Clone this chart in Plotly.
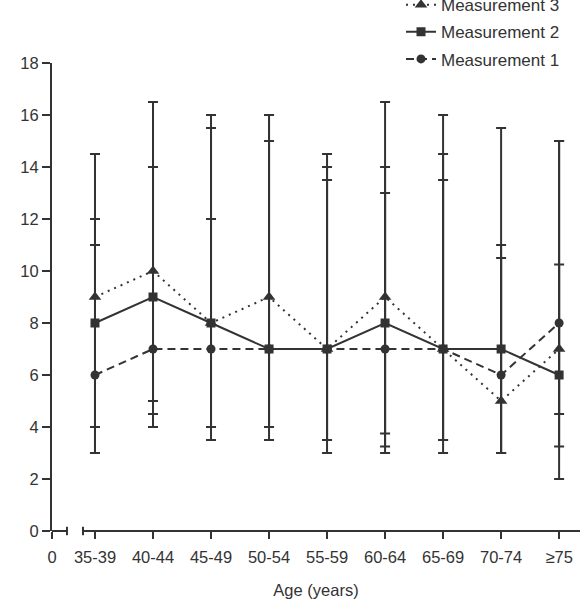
import plotly.graph_objects as go

categories = ["35-39", "40-44", "45-49", "50-54", "55-59", "60-64", "65-69", "70-74", "≥75"]

m1 = [6, 7, 7, 7, 7, 7, 7, 6, 8]
m1_low = [3, 4.5, 4, 4, 3.5, 3.25, 3.5, 3, 3.25]
m1_high = [11, 14, 12, 15, 13.5, 13, 13.5, 10.5, 10.25]

m2 = [8, 9, 8, 7, 7, 8, 7, 7, 6]
m2_low = [4, 4, 3.5, 3.5, 3, 3, 3, 3, 2]
m2_high = [12, 16.5, 16, 16, 14.5, 16.5, 16, 15.5, 15]

m3 = [9, 10, 8, 9, 7, 9, 7, 5, 7]
m3_low = [3, 5, 4, 4, 3.5, 3.75, 3.5, 3, 4.5]
m3_high = [14.5, 16.5, 15.5, 16, 14, 14, 14.5, 11, 15]

x_pos = list(range(1, len(categories) + 1))
x_zero = 0.259
x_max = 9.36
ink = "#333333"

series = [
    ("Measurement 3", m3, m3_low, m3_high, "2px,5px", "triangle-up", 11),
    ("Measurement 2", m2, m2_low, m2_high, "solid", "square", 9),
    ("Measurement 1", m1, m1_low, m1_high, "8px,5px", "circle", 9),
]

fig = go.Figure()
for name, mean, lo, hi, dash, sym, msize in series:
    fig.add_trace(go.Scatter(
        x=x_pos, y=mean, name=name, legendgroup=name, mode="lines+markers",
        line=dict(color=ink, width=2, dash=dash),
        marker=dict(symbol=sym, size=msize, color=ink),
        error_y=dict(type="data", symmetric=False,
                     array=[h - m for h, m in zip(hi, mean)],
                     arrayminus=[m - l for m, l in zip(mean, lo)],
                     color=ink, thickness=2, width=5),
        cliponaxis=False,
    ))

# broken x axis line
xl = dict(color=ink, width=2)
fig.add_shape(type="line", xref="x", yref="paper", x0=x_zero, x1=0.517, y0=0, y1=0, line=xl)
fig.add_shape(type="line", xref="x", yref="paper", x0=0.517, x1=0.517, y0=-0.009, y1=0.009, line=xl)
fig.add_shape(type="line", xref="x", yref="paper", x0=0.793, x1=x_max, y0=0, y1=0, line=xl)
fig.add_shape(type="line", xref="x", yref="paper", x0=0.793, x1=0.793, y0=-0.009, y1=0.009, line=xl)

font_family = "Liberation Sans, Arial, sans-serif"
fig.update_layout(
    width=584, height=606,
    margin=dict(l=52, r=4, t=63, b=75, autoexpand=False),
    plot_bgcolor="white", paper_bgcolor="white",
    font=dict(family=font_family, size=16.5, color=ink),
    showlegend=True,
    legend=dict(traceorder="grouped", tracegroupgap=2,
                x=0.661, xanchor="left", y=1.162, yanchor="top",
                font=dict(size=17, color=ink), bgcolor="rgba(0,0,0,0)"),
    xaxis=dict(range=[x_zero, x_max], tickvals=[x_zero] + x_pos, ticktext=["0"] + categories,
               showline=False, showgrid=False, zeroline=False,
               ticks="outside", ticklen=7, tickwidth=2, tickcolor=ink, ticklabelstandoff=4,
               title=dict(text="Age (years)", standoff=19, font=dict(size=16.5))),
    yaxis=dict(range=[0, 18], dtick=2, showline=True, linewidth=2, linecolor=ink,
               showgrid=False, zeroline=False,
               ticks="outside", ticklen=8, tickwidth=2, tickcolor=ink),
)

fig.write_html("out.html")
